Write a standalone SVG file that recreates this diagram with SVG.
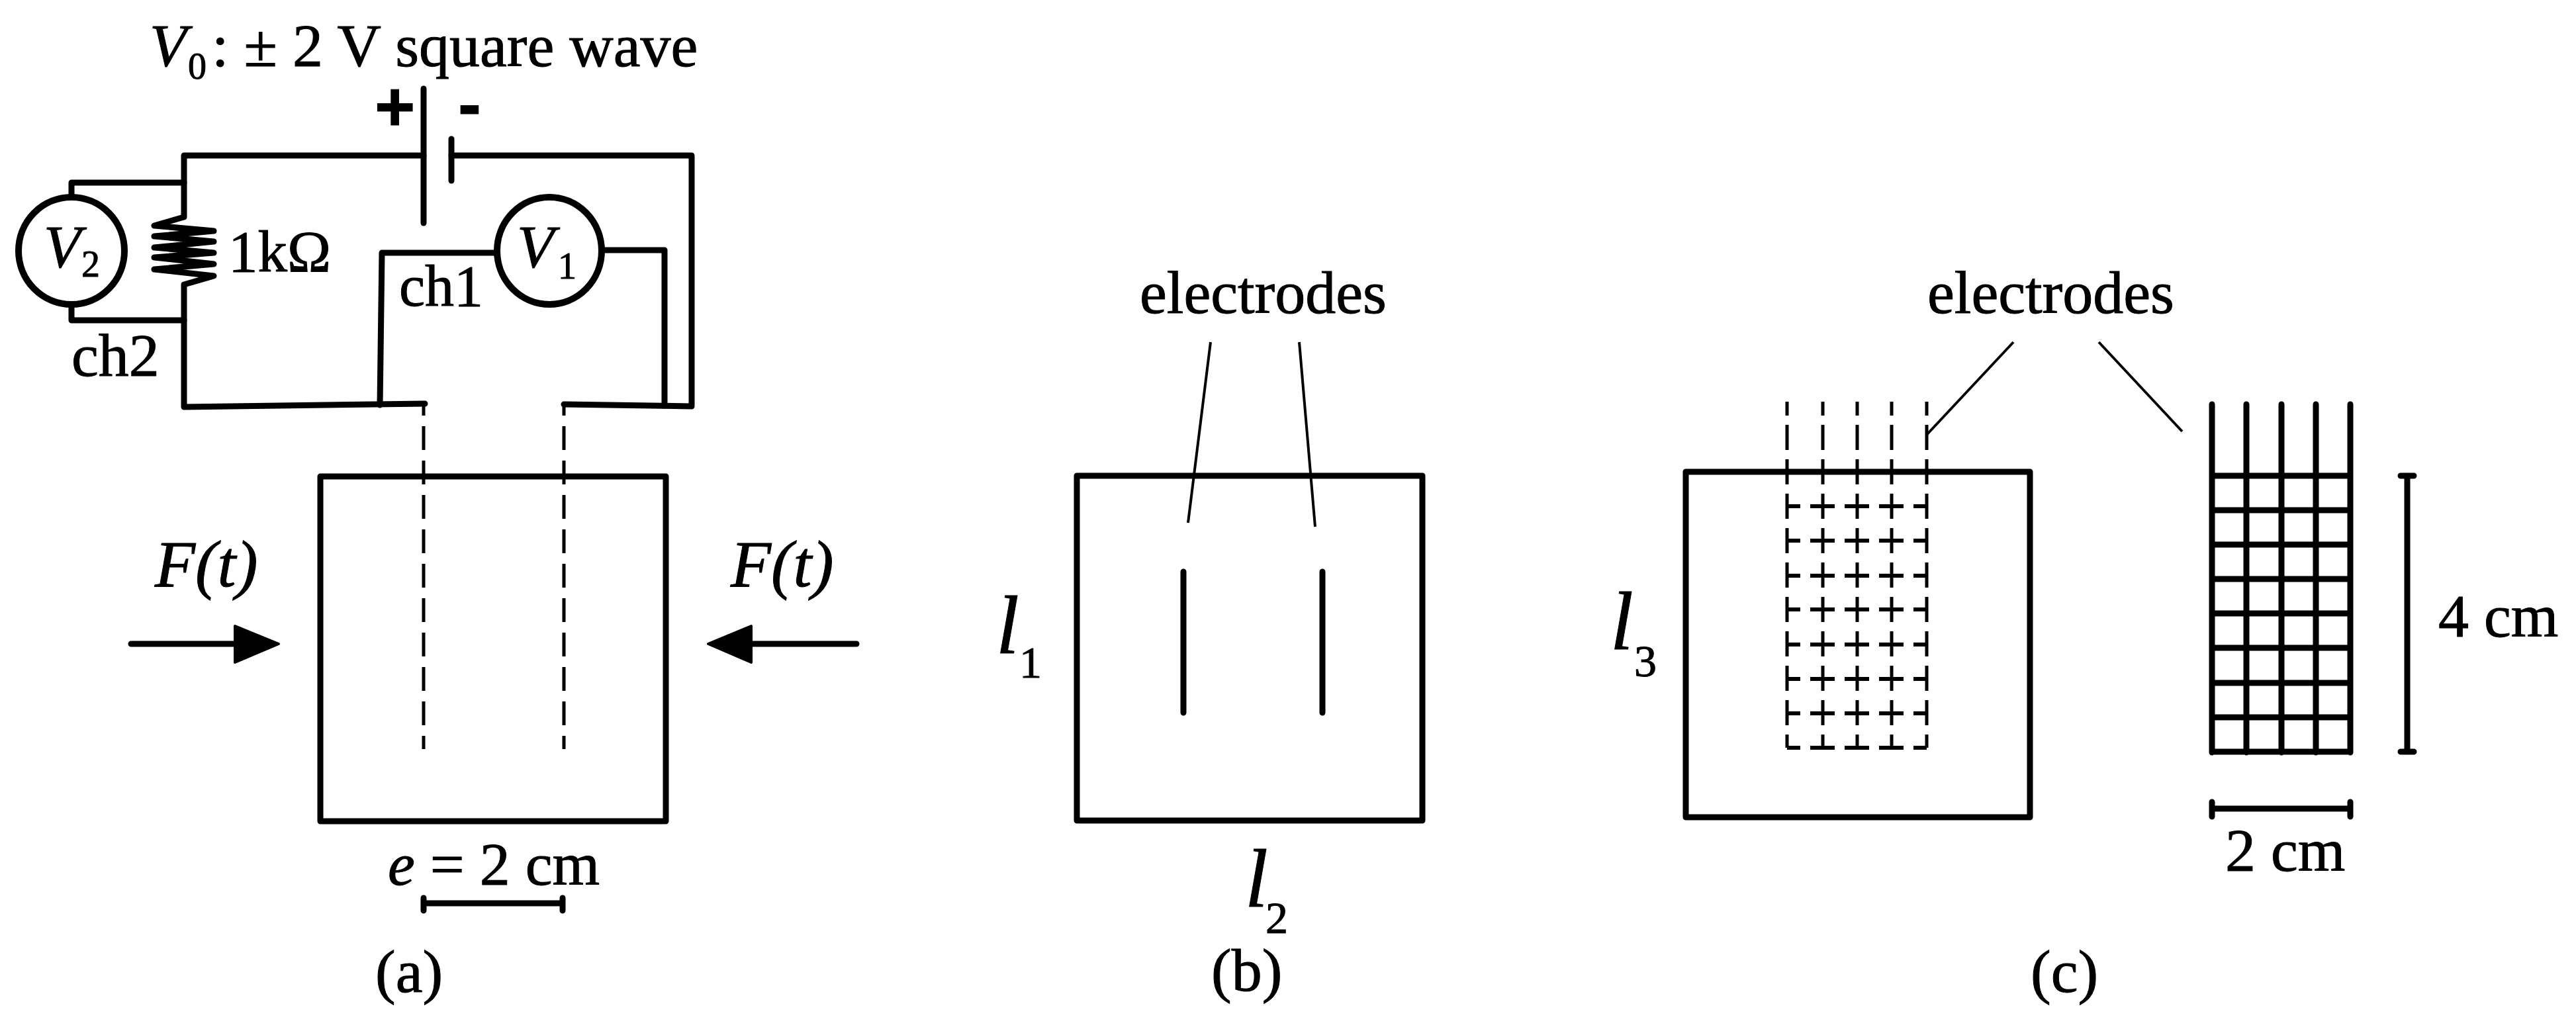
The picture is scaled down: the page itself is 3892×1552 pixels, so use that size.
<svg xmlns="http://www.w3.org/2000/svg" width="3892" height="1552" viewBox="0 0 3892 1552">
<style>
text{font-family:"Liberation Serif","Times New Roman",serif;fill:#000;font-size:92px;stroke:#000;stroke-width:1}
.i{font-style:italic}
.s{font-size:56px}
.L{font-size:125px;font-style:italic}
.ls{font-size:68px}
.p{font-family:"Liberation Sans",Arial,sans-serif;font-weight:bold}
.w{fill:none;stroke:#000;stroke-width:9;stroke-linecap:round;stroke-linejoin:round}
.b{fill:none;stroke:#000;stroke-width:9;stroke-linejoin:round}
.t{fill:none;stroke:#000;stroke-width:4}
.d{fill:none;stroke:#000;stroke-width:5;stroke-dasharray:37 15}
.c{fill:#fff;stroke:#000;stroke-width:10}
.h{fill:#000;stroke:#000;stroke-width:4;stroke-linejoin:round}
</style>
<rect width="3892" height="1552" fill="#fff"/>
<g id="connectors">
<path class="w" d="M640 235H278V328L233 341L323 349L233 357L323 365L233 374L323 382L233 389L323 399L233 407L323 417L278 430V615L642 610"/>
<path class="w" d="M682 235H1045V614L852 611"/>
<path class="w" d="M278 276H108V298M278 484H108V460"/>
<path class="w" d="M750 382H577L574 612M908 378H1004V613"/>
<path class="w" d="M198 973H360M1294 973H1130"/>
<polygon class="h" points="355,946 421,973 355,1001"/>
<polygon class="h" points="1135,946 1070,973 1135,1001"/>
<path class="t" d="M1829 517Q1815 630 1795 790M1963 517L1987 796M3042 517L2911 657M3171 517L3297 652"/>
<path class="w" d="M640 1365H850M640 1357V1376M850 1357V1376"/>
<path class="w" d="M3637 719V1136M3627 719H3647M3627 1136H3647"/>
<path class="w" d="M3342 1222H3551M3342 1212V1234M3551 1212V1234"/>
</g>
<g id="battery">
<path class="w" d="M640 134V337"/>
<path class="w" d="M682 210V273"/>
<text class="p" x="566" y="197" style="font-size:105px">+</text>
<text class="p" x="692" y="193" style="font-size:105px">-</text>
</g>
<g id="source-label">
<text class="i" x="226" y="100">V</text>
<text class="s" x="284" y="119">0</text>
<text x="320" y="100">: ± 2 V square wave</text>
</g>
<g id="v2">
<ellipse class="c" cx="108" cy="379" rx="80" ry="81"/>
<text class="i" x="66" y="404">V</text>
<text class="s" x="123" y="418">2</text>
</g>
<g id="v1">
<ellipse class="c" cx="830" cy="379" rx="79" ry="81"/>
<text class="i" x="781" y="404">V</text>
<text class="s" x="843" y="421">1</text>
</g>
<g id="resistor-label"><text x="345" y="410" style="font-size:89px">1kΩ</text></g>
<g id="ch1-label"><text x="603" y="462" style="font-size:88px">ch1</text></g>
<g id="ch2-label"><text x="108" y="568">ch2</text></g>
<g id="panel-a">
<rect class="b" x="484" y="720" width="522" height="521"/>
<path class="d" d="M640 612V1132M852 612V1132" style="stroke-dasharray:36 16;stroke-dashoffset:20"/>
<text class="i" x="234" y="886" style="font-size:100px">F(t)</text>
<text class="i" x="1104" y="886" style="font-size:100px">F(t)</text>
<text x="586" y="1337"><tspan class="i">e</tspan> = 2 cm</text>
<text x="567" y="1499">(a)</text>
</g>
<g id="panel-b">
<rect class="b" x="1627" y="719" width="522" height="521"/>
<path class="w" d="M1788 864V1077M1998 864V1077"/>
<text x="1722" y="473">electrodes</text>
<text class="L" x="1505" y="987">l</text>
<text class="ls" x="1540" y="1024">1</text>
<text class="L" x="1881" y="1370">l</text>
<text class="ls" x="1912" y="1410">2</text>
<text x="1830" y="1497">(b)</text>
</g>
<g id="panel-c">
<rect class="b" x="2547" y="713" width="520" height="522"/>
<g id="dashed-grid">
<path class="d" style="stroke-dasharray:38 14;stroke-dashoffset:17" d="M2700 607V1130M2754 607V1130M2806 607V1130M2858 607V1130M2911 607V1130"/>
<path class="d" style="stroke-width:6;stroke-dashoffset:17" d="M2700 765H2911M2700 817H2911M2700 870H2911M2700 921H2911M2700 974H2911M2700 1026H2911M2700 1078H2911M2700 1130H2911"/>
</g>
<path class="w" d="M3342 611V1137M3394 611V1137M3447 611V1137M3499 611V1137M3551 611V1137M3342 719H3551M3342 771H3551M3342 823H3551M3342 875H3551M3342 927H3551M3342 979H3551M3342 1032H3551M3342 1084H3551M3342 1136H3551"/>
<text x="2912" y="473">electrodes</text>
<text class="L" x="2433" y="981">l</text>
<text class="ls" x="2469" y="1022">3</text>
<text x="3684" y="962">4 cm</text>
<text x="3362" y="1316">2 cm</text>
<text x="3068" y="1499">(c)</text>
</g>
</svg>
